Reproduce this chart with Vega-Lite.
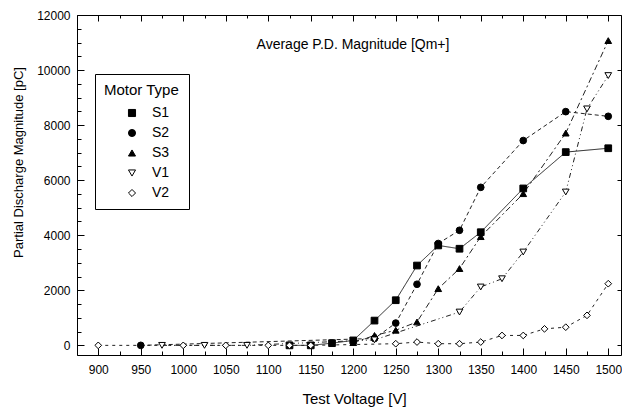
{
  "$schema": "https://vega.github.io/schema/vega-lite/v6.json",
  "width": 544,
  "height": 340,
  "autosize": {"type": "none"},
  "padding": {"left": 77, "top": 15, "right": 1, "bottom": 53},
  "background": "white",
  "title": {
    "text": "Average P.D. Magnitude [Qm+]",
    "font": "Liberation Sans",
    "fontSize": 14,
    "fontWeight": "normal",
    "color": "black",
    "anchor": "middle",
    "baseline": "alphabetic",
    "offset": -54,
    "dx": 4
  },
  "config": {
    "view": {"stroke": null},
    "font": "Liberation Sans",
    "axis": {
      "domainColor": "black",
      "tickColor": "black",
      "labelColor": "black",
      "titleColor": "black",
      "labelFont": "Liberation Sans",
      "titleFont": "Liberation Sans",
      "titleFontWeight": "normal",
      "grid": false
    },
    "legend": {
      "orient": "none",
      "legendX": 18,
      "legendY": 59,
      "direction": "vertical",
      "strokeColor": "black",
      "fillColor": "white",
      "padding": 9,
      "titleFont": "Liberation Sans",
      "titleFontSize": 15,
      "titleFontWeight": "normal",
      "titleColor": "black",
      "titlePadding": 8,
      "labelFont": "Liberation Sans",
      "labelFontSize": 14,
      "labelColor": "black",
      "labelOffset": 13,
      "symbolOffset": 21,
      "symbolSize": 50,
      "symbolStrokeColor": "black",
      "symbolStrokeWidth": 1,
      "rowPadding": 6
    }
  },
  "data": {
    "values": [
      {"series": "S1", "voltage": 1125, "pd": 0},
      {"series": "S1", "voltage": 1150, "pd": 0},
      {"series": "S1", "voltage": 1175, "pd": 80},
      {"series": "S1", "voltage": 1200, "pd": 180},
      {"series": "S1", "voltage": 1225, "pd": 900},
      {"series": "S1", "voltage": 1250, "pd": 1640},
      {"series": "S1", "voltage": 1275, "pd": 2900},
      {"series": "S1", "voltage": 1300, "pd": 3630},
      {"series": "S1", "voltage": 1325, "pd": 3510},
      {"series": "S1", "voltage": 1350, "pd": 4110},
      {"series": "S1", "voltage": 1400, "pd": 5700},
      {"series": "S1", "voltage": 1450, "pd": 7020},
      {"series": "S1", "voltage": 1500, "pd": 7160},
      {"series": "S2", "voltage": 950, "pd": 0},
      {"series": "S2", "voltage": 1225, "pd": 250},
      {"series": "S2", "voltage": 1250, "pd": 810},
      {"series": "S2", "voltage": 1275, "pd": 2220},
      {"series": "S2", "voltage": 1300, "pd": 3700},
      {"series": "S2", "voltage": 1325, "pd": 4180},
      {"series": "S2", "voltage": 1350, "pd": 5740},
      {"series": "S2", "voltage": 1400, "pd": 7440},
      {"series": "S2", "voltage": 1450, "pd": 8490},
      {"series": "S2", "voltage": 1500, "pd": 8320},
      {"series": "S3", "voltage": 1200, "pd": 100},
      {"series": "S3", "voltage": 1225, "pd": 360},
      {"series": "S3", "voltage": 1250, "pd": 550},
      {"series": "S3", "voltage": 1275, "pd": 850},
      {"series": "S3", "voltage": 1300, "pd": 2060},
      {"series": "S3", "voltage": 1325, "pd": 2790},
      {"series": "S3", "voltage": 1350, "pd": 3950},
      {"series": "S3", "voltage": 1400, "pd": 5510},
      {"series": "S3", "voltage": 1450, "pd": 7710},
      {"series": "S3", "voltage": 1500, "pd": 11070},
      {"series": "V1", "voltage": 975, "pd": 0},
      {"series": "V1", "voltage": 1025, "pd": 0},
      {"series": "V1", "voltage": 1075, "pd": 0},
      {"series": "V1", "voltage": 1225, "pd": 200},
      {"series": "V1", "voltage": 1325, "pd": 1210},
      {"series": "V1", "voltage": 1350, "pd": 2120},
      {"series": "V1", "voltage": 1375, "pd": 2420},
      {"series": "V1", "voltage": 1400, "pd": 3390},
      {"series": "V1", "voltage": 1450, "pd": 5570},
      {"series": "V1", "voltage": 1475, "pd": 8590},
      {"series": "V1", "voltage": 1500, "pd": 9800},
      {"series": "V2", "voltage": 900, "pd": 0},
      {"series": "V2", "voltage": 1000, "pd": 0},
      {"series": "V2", "voltage": 1050, "pd": 0},
      {"series": "V2", "voltage": 1100, "pd": 0},
      {"series": "V2", "voltage": 1125, "pd": 0},
      {"series": "V2", "voltage": 1150, "pd": 0},
      {"series": "V2", "voltage": 1250, "pd": 60},
      {"series": "V2", "voltage": 1275, "pd": 120},
      {"series": "V2", "voltage": 1300, "pd": 60},
      {"series": "V2", "voltage": 1325, "pd": 60},
      {"series": "V2", "voltage": 1350, "pd": 120},
      {"series": "V2", "voltage": 1375, "pd": 360},
      {"series": "V2", "voltage": 1400, "pd": 360},
      {"series": "V2", "voltage": 1425, "pd": 600},
      {"series": "V2", "voltage": 1450, "pd": 660},
      {"series": "V2", "voltage": 1475, "pd": 1090},
      {"series": "V2", "voltage": 1500, "pd": 2240}
    ]
  },
  "resolve": {"axis": {"x": "independent", "y": "independent"}},
  "layer": [
    {
      "mark": {"type": "line", "stroke": "#222", "strokeWidth": 1},
      "encoding": {
        "x": {
          "field": "voltage", "type": "quantitative",
          "scale": {"domain": [875, 1515], "nice": false, "zero": false},
          "axis": {
            "orient": "bottom",
            "title": "Test Voltage [V]",
            "titleFontSize": 15,
            "titleBaseline": "middle",
            "titleX": 277,
            "titleY": 43,
            "values": [875, 900, 925, 950, 975, 1000, 1025, 1050, 1075, 1100, 1125, 1150, 1175, 1200, 1225, 1250, 1275, 1300, 1325, 1350, 1375, 1400, 1425, 1450, 1475, 1500],
            "labelExpr": "datum.value % 50 === 0 ? datum.value : ''",
            "labelFontSize": 12,
            "labelPadding": 16,
            "tickSize": {"condition": {"test": "datum.value % 50 === 0", "value": -7}, "value": -4},
            "labelFlush": false,
            "labelOverlap": false
          }
        },
        "y": {
          "field": "pd", "type": "quantitative",
          "scale": {"domain": [-350, 12000], "nice": false, "zero": false},
          "axis": {
            "orient": "left",
            "title": "Partial Discharge Magnitude [pC]",
            "titleFontSize": 13,
            "titleBaseline": "middle",
            "titleX": -59,
            "titleY": 147,
            "values": [0, 500, 1000, 1500, 2000, 2500, 3000, 3500, 4000, 4500, 5000, 5500, 6000, 6500, 7000, 7500, 8000, 8500, 9000, 9500, 10000, 10500, 11000, 11500, 12000],
            "labelExpr": "datum.value % 2000 === 0 ? datum.value : ''",
            "labelFontSize": 12,
            "labelPadding": 14,
            "tickSize": {"condition": {"test": "datum.value % 2000 === 0", "value": -7}, "value": -4},
            "labelFlush": false,
            "labelOverlap": false
          }
        },
        "detail": {"field": "series"},
        "strokeDash": {
          "field": "series", "type": "nominal",
          "scale": {"domain": ["V2", "V1", "S3", "S2", "S1"], "range": [[3, 4], [5, 3, 1, 3, 1, 3], [6, 3, 2, 3], [4, 3], [1, 0]]},
          "legend": null
        }
      }
    },
    {
      "mark": {"type": "point", "filled": false, "stroke": "black", "strokeWidth": 1, "opacity": 1},
      "encoding": {
        "x": {"field": "voltage", "type": "quantitative", "axis": null},
        "y": {"field": "pd", "type": "quantitative", "axis": null},
        "shape": {
          "field": "series", "type": "nominal",
          "scale": {"domain": ["S1", "S2", "S3", "V1", "V2"], "range": ["square", "circle", "triangle-up", "triangle-down", "diamond"]},
          "legend": {
            "title": "Motor Type",
            "symbolStrokeColor": "black",
            "encoding": {"symbols": {"stroke": {"value": "black"}, "strokeWidth": {"value": 1}}}
          }
        },
        "fill": {
          "field": "series", "type": "nominal",
          "scale": {"domain": ["S1", "S2", "S3", "V1", "V2"], "range": ["black", "black", "black", "white", "white"]},
          "legend": {
            "title": "Motor Type",
            "symbolStrokeColor": "black",
            "encoding": {"symbols": {"stroke": {"value": "black"}, "strokeWidth": {"value": 1}}}
          }
        },
        "size": {"value": 45}
      }
    },
    {
      "mark": {"type": "point", "opacity": 0},
      "encoding": {
        "x": {
          "field": "voltage", "type": "quantitative",
          "axis": {
            "orient": "top", "title": null, "labels": false,
            "values": [875, 900, 925, 950, 975, 1000, 1025, 1050, 1075, 1100, 1125, 1150, 1175, 1200, 1225, 1250, 1275, 1300, 1325, 1350, 1375, 1400, 1425, 1450, 1475, 1500],
            "tickSize": {"condition": {"test": "datum.value % 50 === 0", "value": -6}, "value": -3}
          }
        },
        "y": {
          "field": "pd", "type": "quantitative",
          "axis": {
            "orient": "right", "title": null, "labels": false,
            "values": [0, 2000, 4000, 6000, 8000, 10000, 12000],
            "tickSize": -4
          }
        }
      }
    }
  ]
}
